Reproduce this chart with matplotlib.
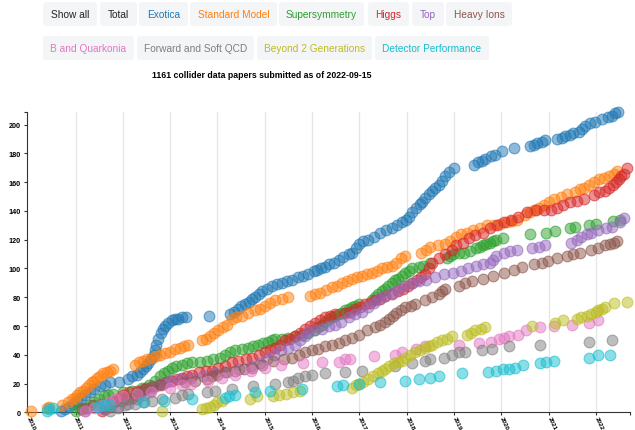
import matplotlib.pyplot as plt
from matplotlib.colors import to_rgba
from matplotlib.patches import FancyBboxPatch
from matplotlib.transforms import IdentityTransform

plt.rcParams['font.family'] = ['Liberation Sans', 'DejaVu Sans']

# (decimal year, cumulative papers)
exotica = [(2010.70, 1), (2010.78, 2), (2010.86, 4), (2010.95, 6), (2011.03, 8), (2011.12, 10), (2011.20, 12),
           (2011.31, 14), (2011.40, 16), (2011.52, 18), (2011.62, 19), (2011.73, 21), (2011.91, 21), (2012.10, 23),
           (2012.19, 25), (2012.29, 26), (2012.36, 28), (2012.43, 30), (2012.50, 32), (2012.54, 34), (2012.59, 37),
           (2012.65, 40), (2012.68, 43), (2012.71, 47), (2012.75, 51), (2012.80, 55), (2012.85, 58), (2012.89, 60),
           (2012.96, 62), (2013.03, 64), (2013.10, 65), (2013.17, 65), (2013.25, 66), (2013.33, 66), (2013.82, 67),
           (2014.27, 68), (2014.35, 70), (2014.43, 72), (2014.50, 74), (2014.58, 75), (2014.66, 77), (2014.73, 79),
           (2014.79, 80), (2014.87, 82), (2014.94, 84), (2015.05, 86), (2015.15, 88), (2015.25, 89), (2015.36, 90),
           (2015.46, 91), (2015.57, 92), (2015.71, 94), (2015.80, 95), (2015.92, 96), (2016.03, 98), (2016.10, 99),
           (2016.18, 100), (2016.27, 101), (2016.36, 103), (2016.46, 104), (2016.56, 106), (2016.66, 108),
           (2016.77, 110), (2016.85, 111), (2016.92, 114), (2016.98, 117), (2017.08, 119), (2017.19, 120),
           (2017.30, 122), (2017.44, 125), (2017.56, 127), (2017.69, 128), (2017.80, 130), (2017.90, 132),
           (2017.98, 134), (2018.05, 136), (2018.11, 139), (2018.20, 142), (2018.27, 145), (2018.32, 146),
           (2018.39, 149), (2018.46, 152), (2018.53, 154), (2018.60, 156), (2018.67, 158), (2018.74, 161),
           (2018.81, 164), (2018.90, 167), (2018.99, 170), (2019.41, 172), (2019.50, 174), (2019.58, 175),
           (2019.66, 176), (2019.77, 178), (2019.87, 179), (2020.01, 182), (2020.26, 184), (2020.61, 185),
           (2020.68, 186), (2020.75, 187), (2020.85, 188), (2020.93, 189), (2021.17, 190), (2021.28, 191),
           (2021.35, 192), (2021.45, 193), (2021.52, 194), (2021.63, 195), (2021.70, 197), (2021.77, 199),
           (2021.88, 201), (2021.98, 202), (2022.12, 204), (2022.25, 205), (2022.33, 206), (2022.40, 208),
           (2022.47, 209)]

standard_model = [(2010.07, 1), (2010.39, 3), (2010.45, 4), (2010.71, 5), (2010.85, 7), (2010.92, 9), (2010.98, 10),
                  (2011.04, 12), (2011.10, 14), (2011.16, 15), (2011.22, 17), (2011.28, 19), (2011.34, 21),
                  (2011.40, 22), (2011.45, 24), (2011.52, 25), (2011.59, 27), (2011.66, 28), (2011.73, 29),
                  (2011.80, 30), (2012.26, 33), (2012.35, 35), (2012.43, 36), (2012.52, 37), (2012.61, 38),
                  (2012.70, 39), (2012.79, 40), (2012.90, 41), (2013.00, 42), (2013.10, 44), (2013.21, 45),
                  (2013.30, 46), (2013.38, 47), (2013.67, 50), (2013.76, 51), (2013.84, 53), (2013.93, 55),
                  (2014.02, 57), (2014.11, 59), (2014.20, 61), (2014.30, 65), (2014.40, 66), (2014.51, 67),
                  (2014.65, 69), (2014.79, 71), (2014.90, 72), (2015.00, 74), (2015.11, 76), (2015.22, 78),
                  (2015.36, 79), (2015.50, 80), (2015.95, 81), (2016.06, 82), (2016.17, 83), (2016.30, 85),
                  (2016.42, 87), (2016.52, 88), (2016.63, 90), (2016.74, 91), (2016.84, 93), (2016.95, 94),
                  (2017.05, 95), (2017.15, 96), (2017.26, 97), (2017.37, 98), (2017.47, 100), (2017.58, 101),
                  (2017.69, 102), (2017.78, 104), (2017.88, 107), (2017.97, 109), (2018.29, 111), (2018.40, 113),
                  (2018.50, 115), (2018.65, 116), (2018.81, 117), (2018.92, 119), (2019.03, 122), (2019.15, 124),
                  (2019.27, 125), (2019.40, 127), (2019.55, 128), (2019.70, 130), (2019.85, 130), (2019.98, 131),
                  (2020.12, 132), (2020.22, 133), (2020.33, 134), (2020.50, 137), (2020.60, 139), (2020.68, 141),
                  (2020.80, 142), (2020.90, 144), (2021.00, 146), (2021.11, 148), (2021.25, 150), (2021.39, 152),
                  (2021.55, 153), (2021.65, 155), (2021.75, 156), (2021.85, 158), (2021.96, 160), (2022.06, 162),
                  (2022.17, 163), (2022.28, 164), (2022.38, 166), (2022.45, 168)]

supersymmetry = [(2011.00, 1), (2011.10, 2), (2011.20, 3), (2011.30, 5), (2011.40, 7), (2011.50, 9), (2011.60, 11),
                 (2011.69, 12), (2011.80, 13), (2012.00, 14), (2012.20, 15), (2012.40, 17), (2012.55, 19),
                 (2012.68, 22), (2012.78, 25), (2012.86, 27), (2012.95, 29), (2013.03, 31), (2013.13, 32),
                 (2013.24, 33), (2013.35, 34), (2013.46, 35), (2013.63, 35), (2013.77, 36), (2013.91, 37),
                 (2014.05, 38), (2014.16, 40), (2014.27, 42), (2014.37, 43), (2014.51, 44), (2014.65, 45),
                 (2014.76, 46), (2014.86, 47), (2014.97, 48), (2015.07, 49), (2015.15, 50), (2015.22, 51),
                 (2015.36, 51), (2015.50, 52), (2015.64, 53), (2015.78, 54), (2015.92, 55), (2016.03, 57),
                 (2016.13, 59), (2016.20, 61), (2016.27, 63), (2016.35, 65), (2016.42, 66), (2016.49, 67),
                 (2016.56, 68), (2016.63, 69), (2016.70, 71), (2016.77, 72), (2016.84, 73), (2016.91, 74),
                 (2016.98, 75), (2017.26, 78), (2017.33, 80), (2017.40, 82), (2017.47, 84), (2017.54, 86),
                 (2017.61, 88), (2017.69, 90), (2017.76, 92), (2017.82, 93), (2017.90, 95), (2017.97, 97),
                 (2018.04, 98), (2018.11, 100), (2018.25, 101), (2018.35, 102), (2018.49, 104), (2018.84, 107),
                 (2018.91, 109), (2018.98, 110), (2019.10, 111), (2019.20, 111), (2019.33, 112), (2019.47, 114),
                 (2019.54, 115), (2019.61, 116), (2019.68, 117), (2019.75, 118), (2019.82, 119), (2019.89, 120),
                 (2020.03, 121), (2020.61, 124), (2020.95, 125), (2021.13, 126), (2021.45, 128), (2021.55, 129),
                 (2021.84, 130), (2022.00, 131), (2022.35, 133), (2022.50, 134)]

higgs = [(2011.55, 1), (2011.62, 2), (2011.70, 4), (2011.78, 6), (2011.86, 8), (2011.93, 10), (2012.00, 12),
         (2012.12, 14), (2012.30, 15), (2012.45, 16), (2012.61, 17), (2012.80, 19), (2012.92, 21), (2013.03, 22),
         (2013.14, 23), (2013.24, 24), (2013.35, 25), (2013.46, 26), (2013.60, 28), (2013.75, 29), (2013.88, 29),
         (2014.02, 31), (2014.16, 32), (2014.30, 35), (2014.44, 36), (2014.60, 37), (2014.73, 38), (2014.87, 40),
         (2015.00, 42), (2015.10, 43), (2015.22, 45), (2015.32, 47), (2015.43, 50), (2015.53, 51), (2015.64, 53),
         (2015.75, 55), (2015.85, 58), (2015.96, 60), (2016.06, 62), (2016.17, 64), (2016.27, 66), (2016.38, 67),
         (2016.48, 68), (2016.70, 69), (2016.80, 70), (2016.91, 72), (2017.02, 73), (2017.12, 75), (2017.22, 76),
         (2017.33, 78), (2017.44, 79), (2017.54, 81), (2017.68, 82), (2017.82, 84), (2017.92, 86), (2018.02, 88),
         (2018.12, 90), (2018.21, 92), (2018.30, 94), (2018.39, 96), (2018.46, 100), (2018.53, 104),
         (2018.67, 107), (2018.81, 110), (2018.95, 113), (2019.05, 116), (2019.18, 118), (2019.31, 121),
         (2019.45, 123), (2019.60, 125), (2019.75, 128), (2019.90, 130), (2020.05, 132), (2020.20, 134),
         (2020.36, 136), (2020.54, 139), (2020.72, 141), (2020.90, 141), (2021.05, 141), (2021.17, 142),
         (2021.30, 144), (2021.45, 146), (2021.60, 147), (2021.75, 148), (2021.95, 151), (2022.07, 153),
         (2022.18, 154), (2022.28, 156), (2022.36, 158), (2022.42, 160), (2022.48, 162), (2022.52, 164),
         (2022.58, 166), (2022.66, 170)]

top = [(2011.20, 1), (2011.60, 2), (2011.90, 4), (2012.10, 6), (2012.30, 9), (2012.45, 12), (2012.58, 15),
       (2012.70, 18), (2012.85, 20), (2013.00, 22), (2013.20, 23), (2013.45, 24), (2013.70, 25), (2013.95, 27),
       (2014.20, 28), (2014.45, 30), (2014.70, 32), (2014.90, 34), (2015.05, 37), (2015.20, 40), (2015.35, 43),
       (2015.50, 45), (2015.64, 47), (2015.75, 50), (2015.85, 53), (2015.92, 56), (2016.05, 57), (2016.20, 58),
       (2016.35, 60), (2016.48, 61), (2016.62, 63), (2016.77, 66), (2016.90, 68), (2017.05, 70), (2017.18, 73),
       (2017.30, 76), (2017.42, 79), (2017.55, 81), (2017.68, 83), (2017.82, 85), (2017.95, 88), (2018.10, 90),
       (2018.25, 91), (2018.40, 92), (2018.60, 94), (2018.79, 96), (2018.97, 97), (2019.15, 98), (2019.30, 100),
       (2019.47, 102), (2019.62, 103), (2019.75, 104), (2019.82, 106), (2019.89, 109), (2020.05, 111),
       (2020.19, 112), (2020.33, 113), (2020.64, 114), (2020.80, 115), (2020.93, 116), (2021.48, 118),
       (2021.60, 120), (2021.69, 122), (2021.80, 124), (2021.90, 125), (2022.05, 127), (2022.20, 128),
       (2022.33, 129), (2022.50, 132), (2022.60, 135)]

heavy_ions = [(2011.13, 2), (2011.25, 3), (2011.38, 5), (2011.55, 6), (2011.75, 7), (2011.98, 8), (2012.10, 9),
              (2012.19, 10), (2012.28, 12), (2012.35, 14), (2012.40, 15), (2012.50, 17), (2012.61, 18),
              (2012.79, 20), (2013.31, 21), (2013.53, 22), (2013.77, 23), (2013.88, 25), (2013.98, 26),
              (2014.16, 28), (2014.37, 29), (2014.55, 30), (2014.73, 31), (2014.95, 33), (2015.18, 36),
              (2015.40, 37), (2015.57, 38), (2015.72, 40), (2015.85, 42), (2016.00, 43), (2016.13, 44),
              (2016.28, 46), (2016.42, 47), (2016.56, 48), (2016.70, 50), (2016.85, 52), (2016.98, 54),
              (2017.15, 57), (2017.33, 59), (2017.44, 61), (2017.54, 63), (2017.62, 65), (2017.70, 67),
              (2017.78, 69), (2017.88, 71), (2017.97, 73), (2018.08, 74), (2018.18, 75), (2018.39, 78),
              (2018.53, 80), (2018.67, 82), (2018.74, 84), (2018.81, 86), (2019.10, 88), (2019.24, 90),
              (2019.38, 91), (2019.60, 93), (2019.83, 95), (2020.05, 97), (2020.26, 99), (2020.43, 101),
              (2020.68, 103), (2020.85, 104), (2020.98, 105), (2021.17, 107), (2021.39, 109), (2021.52, 110),
              (2021.66, 111), (2021.90, 113), (2022.05, 114), (2022.18, 116), (2022.30, 117), (2022.38, 118),
              (2022.45, 119)]

b_quarkonia = [(2011.20, 1), (2011.40, 3), (2011.55, 5), (2011.70, 7), (2011.83, 9), (2012.00, 11), (2012.30, 13),
               (2012.60, 14), (2013.00, 17), (2013.25, 19), (2013.45, 20), (2013.80, 22), (2014.10, 24),
               (2014.37, 26), (2014.70, 29), (2015.00, 31), (2015.35, 33), (2015.80, 34), (2016.20, 35),
               (2016.56, 35), (2016.70, 37), (2016.81, 37), (2017.30, 39), (2017.75, 40), (2017.90, 42),
               (2018.20, 44), (2018.39, 46), (2019.10, 47), (2019.52, 48), (2019.77, 49), (2019.94, 51),
               (2020.05, 52), (2020.15, 53), (2020.36, 54), (2020.51, 57), (2020.82, 59), (2021.10, 60),
               (2021.49, 61), (2021.84, 62), (2022.05, 64)]

forward_qcd = [(2011.73, 1), (2011.90, 3), (2012.05, 5), (2012.26, 6), (2012.45, 7), (2012.61, 8), (2012.82, 9),
               (2013.10, 10), (2013.25, 12), (2013.38, 13), (2013.77, 14), (2013.95, 15), (2014.30, 16),
               (2014.76, 18), (2015.22, 20), (2015.50, 21), (2015.60, 22), (2015.71, 24), (2015.85, 25),
               (2015.99, 26), (2016.27, 27), (2016.70, 28), (2017.05, 29), (2017.75, 32), (2018.11, 34),
               (2018.39, 36), (2018.49, 37), (2018.79, 38), (2018.96, 40), (2019.10, 42), (2019.24, 42),
               (2019.59, 43), (2019.80, 44), (2020.15, 46), (2020.82, 47), (2021.84, 49), (2022.33, 50)]

beyond_2gen = [(2012.82, 1), (2013.67, 2), (2013.76, 3), (2013.84, 4), (2013.92, 5), (2014.00, 7), (2014.09, 8),
               (2014.69, 9), (2014.83, 11), (2015.18, 11), (2015.30, 12), (2015.45, 13), (2015.60, 14),
               (2015.75, 15), (2016.84, 17), (2016.92, 19), (2016.98, 20), (2017.08, 21), (2017.19, 23),
               (2017.28, 25), (2017.40, 27), (2017.47, 29), (2017.55, 30), (2017.62, 32), (2017.72, 34),
               (2017.82, 35), (2017.90, 36), (2017.97, 38), (2018.07, 40), (2018.18, 42), (2018.28, 43),
               (2018.39, 45), (2018.46, 46), (2018.53, 47), (2018.64, 49), (2018.74, 50), (2018.85, 51),
               (2018.96, 53), (2019.27, 54), (2019.36, 55), (2019.45, 57), (2019.56, 58), (2019.66, 59),
               (2020.64, 60), (2021.13, 62), (2021.31, 64), (2021.60, 65), (2021.69, 66), (2021.80, 67),
               (2021.90, 68), (2022.00, 70), (2022.05, 71), (2022.12, 72), (2022.19, 73), (2022.37, 76),
               (2022.65, 77)]

detector = [(2010.39, 1), (2010.44, 2), (2010.53, 3), (2011.48, 4), (2011.60, 5), (2011.73, 5), (2012.43, 7),
            (2012.86, 8), (2013.46, 9), (2014.16, 10), (2014.25, 11), (2014.37, 12), (2014.80, 14), (2015.11, 15),
            (2015.78, 16), (2016.52, 18), (2016.66, 19), (2016.98, 20), (2017.44, 21), (2017.97, 22),
            (2018.25, 23), (2018.49, 24), (2018.67, 25), (2019.16, 27), (2019.72, 28), (2019.89, 29),
            (2020.03, 30), (2020.15, 30), (2020.29, 31), (2020.46, 33), (2020.82, 34), (2020.95, 35),
            (2021.10, 36), (2021.84, 38), (2022.05, 40), (2022.30, 40)]

series = [('Exotica', '#1f77b4', exotica),
          ('Standard Model', '#ff7f0e', standard_model),
          ('Supersymmetry', '#2ca02c', supersymmetry),
          ('Higgs', '#d62728', higgs),
          ('Top', '#9467bd', top),
          ('Heavy Ions', '#8c564b', heavy_ions),
          ('B and Quarkonia', '#e377c2', b_quarkonia),
          ('Forward and Soft QCD', '#7f7f7f', forward_qcd),
          ('Beyond 2 Generations', '#bcbd22', beyond_2gen),
          ('Detector Performance', '#17becf', detector)]

years = list(range(2010, 2023))
y_ticks = list(range(0, 201, 20))

W, H = 635, 431
fig = plt.figure(figsize=(W / 100, H / 100), dpi=100)

# filter buttons (label, colour, left px, right px, row)
buttons = [('Show all', '#222222', 43, 97, 0), ('Total', '#222222', 100, 137, 0),
           ('Exotica', '#1f77b4', 139, 188, 0), ('Standard Model', '#ff7f0e', 190, 277, 0),
           ('Supersymmetry', '#2ca02c', 279, 364, 0), ('Higgs', '#d62728', 368, 409, 0),
           ('Top', '#9467bd', 412, 444, 0), ('Heavy Ions', '#8c564b', 446, 512, 0),
           ('B and Quarkonia', '#e377c2', 43, 134, 1), ('Forward and Soft QCD', '#7f7f7f', 137, 254, 1),
           ('Beyond 2 Generations', '#bcbd22', 257, 372, 1), ('Detector Performance', '#17becf', 375, 489, 1)]
for label, color, x0, x1, row in buttons:
    top_px = 3 + row * 34
    box = FancyBboxPatch((x0, H - top_px - 24), x1 - x0, 24, boxstyle='round,pad=0,rounding_size=3',
                         facecolor='#f4f5f7', edgecolor='none', transform=IdentityTransform())
    fig.patches.append(box)
    fig.text((x0 + x1) / 2 / W, 1 - (top_px + 12) / H, label, ha='center', va='center',
             color=color, fontsize=7.3)

fig.text(262 / W, 1 - 76 / H, '1161 collider data papers submitted as of 2022-09-15',
         ha='center', va='center', fontsize=6.3, fontweight='bold')

ax = fig.add_axes([27 / W, 1 - 413.3 / H, (629.7 - 27) / W, (413.3 - 112.7) / H])
for name, color, pts in series:
    xs = [p[0] for p in pts]
    ys = [p[1] for p in pts]
    ax.scatter(xs, ys, s=60, facecolor=to_rgba(color, 0.5), edgecolor=to_rgba(color, 0.6),
               linewidth=0.8, zorder=3, clip_on=False, label=name)

ax.set_xlim(2009.975, 2022.71)
ax.set_ylim(0, 209)
for yr in years[1:]:
    ax.axvline(yr, color='#e6e6e6', linewidth=1, zorder=1)

ax.set_xticks(years)
ax.set_xticklabels([str(y) for y in years], rotation=-65, ha='left', va='center',
                   rotation_mode='anchor', fontsize=4.6, fontweight='bold')
ax.set_yticks(y_ticks)
ax.set_yticklabels([str(v) for v in y_ticks], fontsize=5.2, fontweight='bold')
ax.set_xticks([2022.71], minor=True)
ax.set_yticks([209], minor=True)
ax.tick_params(axis='both', which='both', length=2.4, width=0.8, color='#333333', pad=2)
ax.tick_params(axis='x', pad=0.8)

for side in ['top', 'right']:
    ax.spines[side].set_visible(False)
for side in ['left', 'bottom']:
    ax.spines[side].set_color('#333333')
    ax.spines[side].set_linewidth(0.8)
ax.set_facecolor('none')

fig.savefig('out.png', dpi=100)
